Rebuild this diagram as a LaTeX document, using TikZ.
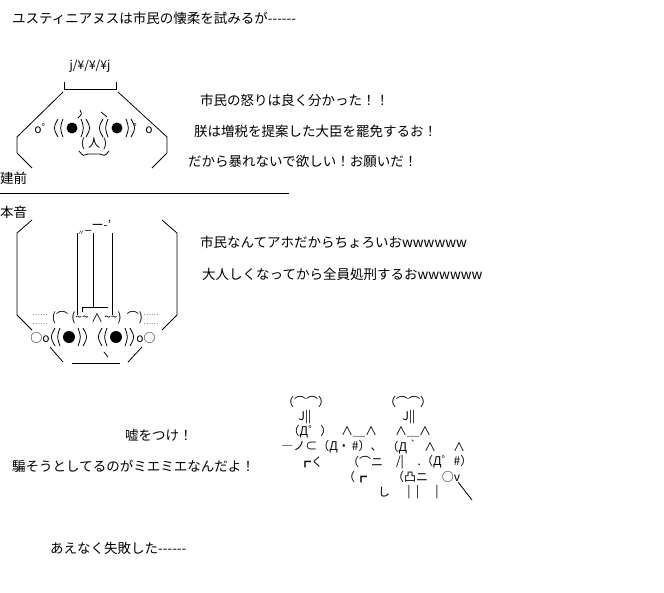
\documentclass[tikz,border=0pt]{standalone}
\usepackage{fontspec}
\setmainfont{Noto Sans CJK JP}
\usetikzlibrary{calc}
\begin{document}
\begin{tikzpicture}[x=1pt,y=-1pt,
  txt/.style={anchor=west,inner sep=0pt,font=\fontsize{13.5}{14}\selectfont},
  aa/.style={anchor=center,inner sep=0pt,font=\fontsize{12}{13}\selectfont},
  sm/.style={anchor=center,inner sep=0pt,font=\fontsize{7}{8}\selectfont},
  ln/.style={line width=0.8pt},
  eye/.style={fill=black}]
\useasboundingbox[fill=white] (0,0) rectangle (664,592);
\newcommand\dashes{{-}{-}{-}{-}{-}{-}}
\newcommand\onepar[3]{% x center, y, signed offset
  \draw[ln] ($(#1,#2)+(#3,-9)$) .. controls ($(#1,#2)+(#3*1.35,0)$) .. ($(#1,#2)+(#3,9)$);}
\newcommand\eyepar[3]{%
  \fill[eye] (#1,#2) circle (#3);
  \onepar{#1}{#2}{-9}\onepar{#1}{#2}{-14}\onepar{#1}{#2}{9}\onepar{#1}{#2}{14}}
% texts
\node[txt] (t0) at (12,18) {ユスティニアヌスは市民の懐柔を試みるが\dashes};
\node[txt] (t1) at (200,100) {市民の怒りは良く分かった！！};
\node[txt] (t2) at (194,131) {朕は増税を提案した大臣を罷免するお！};
\node[txt] (t3) at (188,161) {だから暴れないで欲しい！お願いだ！};
\node[txt] (t4) at (0,178) {建前};
\draw[ln] (0,193) -- (289,193);
\node[txt] (t5) at (0,212) {本音};
\node[txt] (t6) at (200,242) {市民なんてアホだからちょろいおwwwwww};
\node[txt] (t7) at (202,274) {大人しくなってから全員処刑するおwwwwww};
\node[txt] (t8) at (125,435) {嘘をつけ！};
\node[txt] (t9) at (12,466) {騙そうとしてるのがミエミエなんだよ！};
\node[txt] (t10) at (50,548) {あえなく失敗した\dashes};
% face 1
\node[aa] (c1) at (90,66) {j/¥/¥/¥j};
\draw[ln] (64,82) -- (64,89) -- (116,89) -- (116,82);
\draw[ln] (63,92) -- (17,137) -- (17,153) -- (32,168);
\draw[ln] (118,92) -- (167,137) -- (167,153) -- (152,168);
\node[aa] (e1l) at (44,129) {o゜};
\node[aa] (e1r) at (143,129) {゜o};
\eyepar{72}{128}{5.5}
\eyepar{117}{128}{5.5}
\draw[ln] (80,110) .. controls (82,114) .. (78,118);
\draw[ln] (101,112) -- (107,117);
\node[aa] (m1) at (94,144) {(\kern3pt 人\kern3pt)};
\draw[ln] (79,151) .. controls (83,156) .. (88,154) -- (100,154) .. controls (105,156) .. (109,151);
% face 2
\draw[ln] (32,220) -- (17,233) -- (17,315) -- (32,330);
\draw[ln] (162,220) -- (177,233) -- (177,315) -- (162,330);
\draw[ln] (77,233) -- (77,315);
\draw[ln] (93,233) -- (93,305);
\draw[ln] (112,233) -- (112,315);
\node[aa] (h1) at (98,226) {\_ー-'};
\node[sm] (h2) at (81,233) {〃};
\draw[ln] (82,312) -- (82,307) -- (108,307);
\draw[ln] (93,300) -- (93,307);
\node[aa] (b1) at (60,318) {(⌒};
\node[aa] (b2) at (80,318) {(\textasciitilde\textasciitilde};
\node[aa] (b3) at (97,318) {∧};
\node[aa] (b4) at (113,318) {\textasciitilde\textasciitilde)};
\node[aa] (b5) at (135,318) {⌒)};
\node[sm] (d1) at (40,315) {……};
\node[sm] (d2) at (40,324) {……};
\node[sm] (d3) at (151,315) {……};
\node[sm] (d4) at (151,324) {……};
\node[aa] (e2l) at (40,338) {○o};
\node[aa] (e2r) at (146,338) {o○};
\eyepar{69}{337}{6}
\eyepar{116}{337}{6}
\draw[ln] (50,347) -- (63,362);
\draw[ln] (142,347) -- (128,362);
\draw[ln] (72,363) -- (120,363);
\draw[ln] (104,352) -- (108,357);
% bottom AA
\node[aa] (a1) at (306,402) {（⌒⌒）};
\node[aa] (a2) at (408,402) {（⌒⌒）};
\node[aa] (a3) at (305,417) {J||};
\node[aa] (a4) at (409,417) {J||};
\node[aa] (a5) at (310,432) {（Д゜）};
\node[aa] (a6) at (359,432) {∧＿∧};
\node[aa] (a7) at (413,432) {∧＿∧};
\node[aa] (a8) at (332,447) {―ノ⊂（Д・\,\#）、};
\node[aa] (a9) at (403,447) {（Д｀};
\node[aa] (a10) at (430,447) {∧};
\node[aa] (a11) at (459,447) {∧};
\node[aa] (a12) at (311,462) {┏く};
\node[aa] (a13) at (365,462) {（⌒ニ};
\node[aa] (a14) at (400,462) {/|};
\node[aa] (a15) at (445,462) {.（Д゜\#）};
\node[aa] (a16) at (355,477) {（┏};
\node[aa] (a17) at (410,477) {（凸ニ};
\node[aa] (a18) at (451,477) {○v};
\node[aa] (a19) at (384,492) {し};
\node[aa] (a20) at (423,492) {|\ \ |\ \ \ \ \ \ |};
\draw[ln] (458,482) -- (472,500);
\end{tikzpicture}
\end{document}
